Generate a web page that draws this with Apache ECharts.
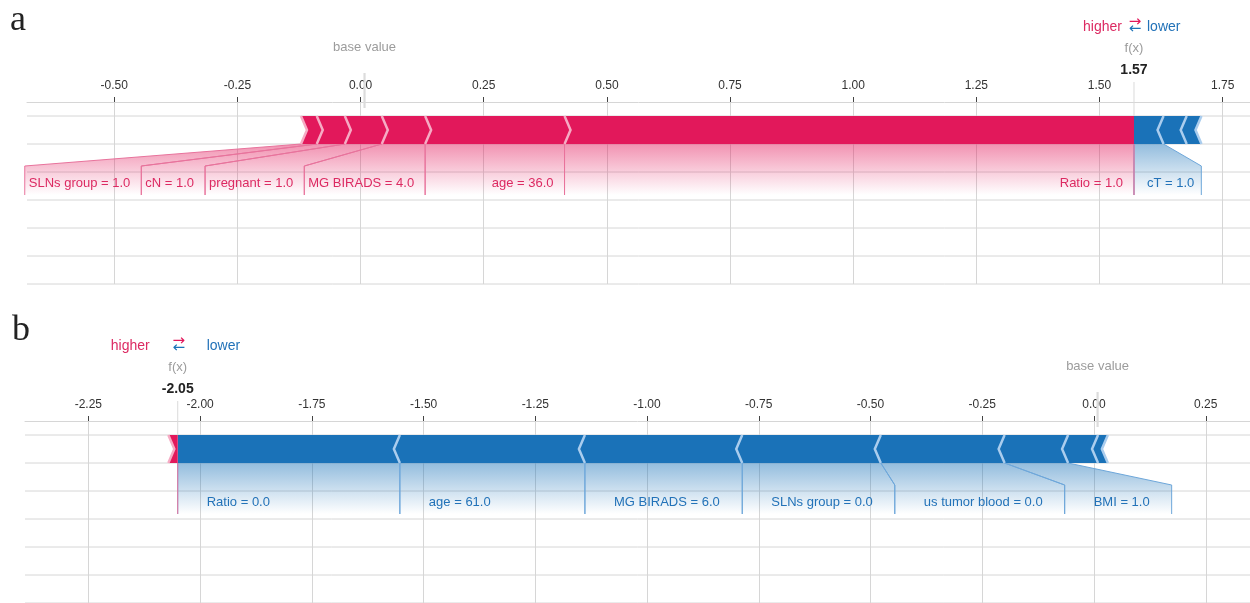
<!DOCTYPE html>
<html>
<head>
<meta charset="utf-8">
<script src="https://cdn.jsdelivr.net/npm/echarts@6/dist/echarts.min.js"></script>
<style>
  html, body { margin: 0; padding: 0; background: #fff; }
  #chart { width: 1250px; height: 603px; }
</style>
</head>
<body>
<div id="chart"></div>
<script>
// ---- Panel a: SHAP contributions, ordered from f(x) outwards within each sign ----
const labelsA = ['Ratio = 1.0', 'age = 36.0', 'MG BIRADS = 4.0', 'pregnant = 1.0', 'cN = 1.0', 'SLNs group = 1.0', 'cT = 1.0', '', ''];
const shapA   = [1.156, 0.283, 0.088, 0.075, 0.057, 0.032, -0.060, -0.047, -0.030];
const fxA     = 1.57;
const ticksA  = [-0.5, -0.25, 0, 0.25, 0.5, 0.75, 1, 1.25, 1.5, 1.75];

// ---- Panel b ----
const labelsB = ['Ratio = 0.0', 'age = 61.0', 'MG BIRADS = 6.0', 'SLNs group = 0.0', 'us tumor blood = 0.0', 'BMI = 1.0', '', '', ''];
const shapB   = [-0.497, -0.414, -0.352, -0.310, -0.277, -0.142, -0.067, -0.022, 0.021];
const fxB     = -2.05;
const ticksB  = [-2.25, -2, -1.75, -1.5, -1.25, -1, -0.75, -0.5, -0.25, 0, 0.25];

const baseValue = 0.008;
const rowLines  = [1, 3, 5, 7, 9, 11, 13];

// ---- styling ----
const RED = '#e2185b', BLUE = '#1a72b8';
const RED_RGB = '226,24,91', BLUE_RGB = '26,114,184';
const RED_PALE = '#f6abc4', BLUE_PALE = '#aacdee';
const RED_LINE = '#e8739c', BLUE_LINE = '#6ea7da';
const RED_TEXT = '#dc2a62', BLUE_TEXT = '#2272b8';
const GRID_GREY = '#d6d6d6';
const FONT = '"Liberation Sans", Arial, sans-serif';
const LABEL_FONT = '13px ' + FONT;
const CHEVRON = 6;

const panels = [
  { labels: labelsA, shap: shapA, fx: fxA, ticks: ticksA,
    grid: { left: 27, right: 0, top: 102, height: 182 }, min: -0.6772, max: 1.8055,
    pad: 13, padIn: 11, gapPos: 4, gapNeg: 7 },
  { labels: labelsB, shap: shapB, fx: fxB, ticks: ticksB,
    grid: { left: 25, right: 0, top: 421, height: 182 }, min: -2.3917, max: 0.349,
    pad: 29, padIn: 29, gapPos: 4, gapNeg: 22 }
];

const measureCtx = document.createElement('canvas').getContext('2d');
function textWidth(str, font) { measureCtx.font = font; return measureCtx.measureText(str).width; }

// stack contributions outward from f(x): positive to the left, negative to the right
function stack(values, labels, fx) {
  const segs = [];
  let pos = 0, neg = 0;
  values.forEach((v, i) => {
    if (v >= 0) {
      segs.push({ x0: fx - pos - v, x1: fx - pos, sign: 1, inner: pos === 0 ? 1 : 0, label: labels[i] });
      pos += v;
    } else {
      segs.push({ x0: fx + neg, x1: fx + neg - v, sign: -1, inner: neg === 0 ? 1 : 0, label: labels[i] });
      neg -= v;
    }
  });
  return segs;
}

// place the feature labels under the bar so that they never overlap
function layoutLabels(segs, fxPx, toPx, p) {
  const out = [];
  let prev = fxPx;
  segs.filter(s => s.sign > 0 && s.label).forEach(s => {
    const a = toPx(s.x0), b = toPx(s.x1);
    const w = textWidth(s.label, LABEL_FONT);
    const R = Math.min(b, prev);
    const tr = R - p.padIn;
    const L = Math.min(a, tr - w - p.gapPos);
    out.push({ a, b, L, R, tx: tr, align: 'right', sign: 1, label: s.label });
    prev = L;
  });
  prev = fxPx;
  segs.filter(s => s.sign < 0 && s.label).forEach(s => {
    const a = toPx(s.x0), b = toPx(s.x1);
    const w = textWidth(s.label, LABEL_FONT);
    const L = Math.max(a, prev);
    const tl = L + p.pad;
    const R = Math.max(b, tl + w + p.gapNeg);
    out.push({ a, b, L, R, tx: tl, align: 'left', sign: -1, label: s.label });
    prev = R;
  });
  return out;
}

function renderBar(params, api) {
  const x0 = api.value(0), x1 = api.value(1), sign = api.value(2), inner = api.value(3);
  const pa = api.coord([x0, 1]), pb = api.coord([x1, 3]);
  const a = pa[0], b = pb[0], top = pa[1], bot = pb[1], mid = (top + bot) / 2;
  const tip = inner ? 0 : CHEVRON;
  let pts, sep;
  if (sign > 0) {
    pts = [[a, top], [b, top], [b + tip, mid], [b, bot], [a, bot], [a + CHEVRON, mid]];
    sep = [[a, top], [a + CHEVRON, mid], [a, bot]];
  } else {
    pts = [[a, top], [b, top], [b - CHEVRON, mid], [b, bot], [a, bot], [a - tip, mid]];
    sep = [[b, top], [b - CHEVRON, mid], [b, bot]];
  }
  return {
    type: 'group',
    children: [
      { type: 'polygon', z2: 0, shape: { points: pts }, style: { fill: sign > 0 ? RED : BLUE } },
      { type: 'polyline', z2: 10, shape: { points: sep },
        style: { stroke: sign > 0 ? RED_PALE : BLUE_PALE, lineWidth: 2.5, fill: null } }
    ]
  };
}

function renderRow(params, api) {
  const cs = params.coordSys;
  const y = api.coord([0, api.value(0)])[1];
  return { type: 'line', shape: { x1: cs.x, y1: y, x2: cs.x + cs.width, y2: y },
           style: { stroke: GRID_GREY, lineWidth: 1 } };
}

function makeDecor(p, segs) {
  return function (params, api) {
    const toPx = v => api.coord([v, 0])[0];
    const T = api.coord([p.fx, 0])[1];
    const barTop = api.coord([p.fx, 1])[1];
    const bb = api.coord([p.fx, 3])[1];
    const fxPx = toPx(p.fx);
    const bPx = toPx(baseValue);
    const kids = [];
    const items = layoutLabels(segs, fxPx, toPx, p);

    items.forEach(it => {
      const rgb = it.sign > 0 ? RED_RGB : BLUE_RGB;
      kids.push({
        type: 'polygon', z2: 0,
        shape: { points: [[it.a, bb], [it.b, bb], [it.R, bb + 22], [it.R, bb + 51], [it.L, bb + 51], [it.L, bb + 22]] },
        style: { fill: new echarts.graphic.LinearGradient(0, 0, 0, 1, [
          { offset: 0, color: 'rgba(' + rgb + ',0.47)' },
          { offset: 1, color: 'rgba(' + rgb + ',0)' }]) }
      });
    });
    items.forEach(it => {
      const stroke = it.sign > 0 ? RED_LINE : BLUE_LINE;
      kids.push({ type: 'polyline', z2: 2, shape: { points: [[it.a, bb], [it.L, bb + 22], [it.L, bb + 51]] },
                  style: { stroke, lineWidth: 1, fill: null } });
      kids.push({ type: 'polyline', z2: 2, shape: { points: [[it.b, bb], [it.R, bb + 22], [it.R, bb + 51]] },
                  style: { stroke, lineWidth: 1, fill: null } });
      kids.push({ type: 'text', z2: 5, x: it.tx, y: bb + 39,
                  style: { text: it.label, font: LABEL_FONT, fill: it.sign > 0 ? RED_TEXT : BLUE_TEXT,
                           align: it.align, verticalAlign: 'middle' } });
    });
    // output marker below the bar
    kids.push({ type: 'line', z2: 3, shape: { x1: fxPx, y1: bb, x2: fxPx, y2: bb + 51 },
                style: { stroke: RED_LINE, lineWidth: 1 } });
    // output marker above the bar
    kids.push({ type: 'line', z2: 1, shape: { x1: fxPx, y1: T - 20, x2: fxPx, y2: barTop },
                style: { stroke: '#dadada', lineWidth: 1 } });
    // base value marker
    kids.push({ type: 'line', z2: 6, shape: { x1: bPx, y1: T - 29, x2: bPx, y2: T + 6 },
                style: { stroke: '#dcdcdc', lineWidth: 2.2 } });
    kids.push({ type: 'text', z2: 6, x: bPx, y: T - 55,
                style: { text: 'base value', font: '13px ' + FONT, fill: '#9c9c9c', align: 'center', verticalAlign: 'middle' } });
    kids.push({ type: 'text', z2: 6, x: fxPx, y: T - 54,
                style: { text: 'f(x)', font: '13px ' + FONT, fill: '#9c9c9c', align: 'center', verticalAlign: 'middle' } });
    kids.push({ type: 'text', z2: 6, x: fxPx, y: T - 32,
                style: { text: p.fx.toFixed(2), font: 'bold 14px ' + FONT, fill: '#222', align: 'center', verticalAlign: 'middle' } });
    // higher / lower legend
    kids.push({ type: 'text', z2: 6, x: fxPx - p.pad + 1, y: T - 74.5,
                style: { text: 'higher', font: '14px ' + FONT, fill: RED_TEXT, align: 'right', verticalAlign: 'middle' } });
    kids.push({ type: 'text', z2: 6, x: fxPx + p.pad, y: T - 74.5,
                style: { text: 'lower', font: '14px ' + FONT, fill: BLUE_TEXT, align: 'left', verticalAlign: 'middle' } });
    kids.push({ type: 'text', z2: 6, x: fxPx + 1, y: T - 79.5,
                style: { text: '\u2192', font: '15px "DejaVu Sans"', fill: RED, align: 'center', verticalAlign: 'middle' } });
    kids.push({ type: 'text', z2: 6, x: fxPx + 1, y: T - 72.5,
                style: { text: '\u2190', font: '15px "DejaVu Sans"', fill: BLUE, align: 'center', verticalAlign: 'middle' } });
    return { type: 'group', children: kids };
  };
}

const grid = [], xAxis = [], yAxis = [], series = [];
panels.forEach((p, i) => {
  const segs = stack(p.shap, p.labels, p.fx);
  grid.push(p.grid);
  xAxis.push({
    gridIndex: i, type: 'value', position: 'top', min: p.min, max: p.max,
    axisLine: { show: true, onZero: false, lineStyle: { color: GRID_GREY, width: 1 } },
    axisTick: { show: true, length: 5, customValues: p.ticks, lineStyle: { color: '#444', width: 1 } },
    axisLabel: { customValues: p.ticks, formatter: v => v.toFixed(2), color: '#333', fontSize: 12, margin: 10, fontFamily: FONT },
    splitLine: { show: true, lineStyle: { color: GRID_GREY, width: 1 } }
  });
  yAxis.push({ gridIndex: i, type: 'value', min: 0, max: 13, inverse: true, show: false });
  series.push({
    type: 'custom', xAxisIndex: i, yAxisIndex: i, z: 1, silent: true,
    data: rowLines.map(y => [y]), encode: { y: 0 }, renderItem: renderRow
  });
  series.push({
    type: 'custom', xAxisIndex: i, yAxisIndex: i, z: 2, silent: true,
    data: [[p.fx, 0]], encode: { x: 0, y: 1 }, renderItem: makeDecor(p, segs)
  });
  series.push({
    type: 'custom', xAxisIndex: i, yAxisIndex: i, z: 3, silent: true,
    data: segs.map(s => [s.x0, s.x1, s.sign, s.inner]), encode: { x: [0, 1] }, renderItem: renderBar
  });
});

const chart = echarts.init(document.getElementById('chart'), null, { renderer: 'canvas' });
chart.setOption({
  animation: false,
  backgroundColor: '#fff',
  textStyle: { fontFamily: FONT },
  grid, xAxis, yAxis, series,
  graphic: [
    { type: 'text', x: 10, y: 21, style: { text: 'a', font: '36px "Liberation Serif", serif', fill: '#222', verticalAlign: 'middle' } },
    { type: 'text', x: 12, y: 331, style: { text: 'b', font: '36px "Liberation Serif", serif', fill: '#222', verticalAlign: 'middle' } }
  ]
});
</script>
</body>
</html>
